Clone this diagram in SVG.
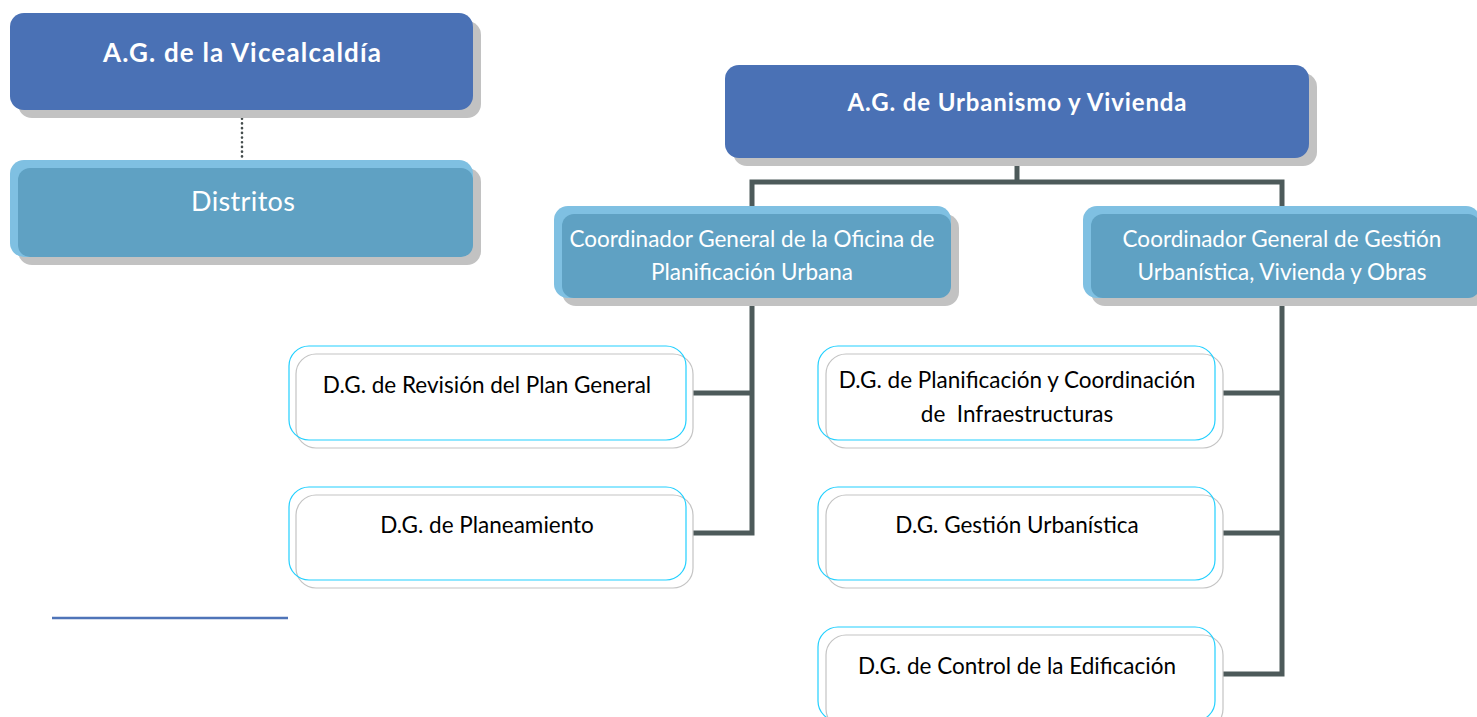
<svg xmlns="http://www.w3.org/2000/svg" width="1477" height="717" viewBox="0 0 1477 717">
<style>
.shadow{fill:#c2c2c2}
.dark{fill:#4a71b5}
.light{fill:#7fc0e2}
.mid{fill:#5fa1c3}
.ttl{font-family:Lato,"Open Sans",sans-serif;font-weight:bold;fill:#ffffff;text-anchor:middle;font-size:26px}
.sub{font-family:Lato,"Open Sans",sans-serif;fill:#ffffff;text-anchor:middle;font-size:22.5px}
.big{font-size:27px}
.dg{font-family:Lato,"Open Sans",sans-serif;fill:#000000;text-anchor:middle;font-size:22.5px}
.gbox{fill:#ffffff;stroke:#c4c4c4;stroke-width:1.2}
.cbox{fill:none;stroke:#22d0ff;stroke-width:1.2}
.conn{fill:none;stroke:#4d5a5a;stroke-width:5}
</style>
<rect width="1477" height="717" fill="#ffffff"/>
<g id="connectors">
<line x1="242" y1="114" x2="242" y2="159" stroke="#454d4d" stroke-width="2.6" stroke-dasharray="0.1 4.6" stroke-linecap="round"/>
<polyline class="conn" points="1017,158 1017,182"/>
<polyline class="conn" points="752,210 752,182 1282,182 1282,210"/>
<polyline class="conn" points="752,298 752,533 686,533"/>
<line class="conn" x1="686" y1="393" x2="752" y2="393"/>
<polyline class="conn" points="1282,298 1282,674 1216,674"/>
<line class="conn" x1="1216" y1="393" x2="1282" y2="393"/>
<line class="conn" x1="1216" y1="533" x2="1282" y2="533"/>
</g>
<g id="vicealcaldia">
<rect class="shadow" x="18" y="21" width="463" height="97" rx="14"/>
<rect class="dark" x="10" y="13" width="463" height="97" rx="14"/>
<text class="ttl" x="242" y="62" textLength="278" lengthAdjust="spacing">A.G. de la Vicealcaldía</text>
</g>
<g id="distritos">
<rect class="shadow" x="18" y="168" width="463" height="97" rx="14"/>
<rect class="light" x="10" y="160" width="463" height="97" rx="14"/>
<rect class="mid" x="18" y="168" width="455" height="89" rx="12"/>
<text class="sub big" x="243" y="211" textLength="104" lengthAdjust="spacing">Distritos</text>
</g>
<g id="urbanismo">
<rect class="shadow" x="733" y="73" width="584" height="93" rx="14"/>
<rect class="dark" x="725" y="65" width="584" height="93" rx="14"/>
<text class="ttl" x="1017" y="111" style="font-size:24px" textLength="339" lengthAdjust="spacing">A.G. de Urbanismo y Vivienda</text>
</g>
<g id="coord-planificacion">
<rect class="shadow" x="562" y="214" width="397" height="92" rx="14"/>
<rect class="light" x="554" y="206" width="397" height="92" rx="14"/>
<rect class="mid" x="562" y="214" width="389" height="84" rx="12"/>
<text class="sub" x="752" y="247">Coordinador General de la Oficina de</text>
<text class="sub" x="752" y="280">Planificación Urbana</text>
</g>
<g id="coord-gestion">
<rect class="shadow" x="1091" y="214" width="397" height="92" rx="14"/>
<rect class="light" x="1083" y="206" width="397" height="92" rx="14"/>
<rect class="mid" x="1091" y="214" width="389" height="84" rx="12"/>
<text class="sub" x="1282" y="247">Coordinador General de Gestión</text>
<text class="sub" x="1282" y="280">Urbanística, Vivienda y Obras</text>
</g>
<g id="dg-revision">
<rect class="gbox" x="296" y="354" width="397" height="94" rx="20"/>
<rect class="cbox" x="289" y="346" width="397" height="94" rx="20"/>
<text class="dg" x="487" y="393">D.G. de Revisión del Plan General</text>
</g>
<g id="dg-planeamiento">
<rect class="gbox" x="296" y="495" width="397" height="93" rx="20"/>
<rect class="cbox" x="289" y="487" width="397" height="93" rx="20"/>
<text class="dg" x="487" y="533">D.G. de Planeamiento</text>
</g>
<g id="dg-infraestructuras">
<rect class="gbox" x="826" y="354" width="397" height="94" rx="20"/>
<rect class="cbox" x="818" y="346" width="397" height="94" rx="20"/>
<text class="dg" x="1017" y="388">D.G. de Planificación y Coordinación</text>
<text class="dg" x="1017" y="422" xml:space="preserve">de  Infraestructuras</text>
</g>
<g id="dg-gestion">
<rect class="gbox" x="826" y="495" width="397" height="93" rx="20"/>
<rect class="cbox" x="818" y="487" width="397" height="93" rx="20"/>
<text class="dg" x="1017" y="533">D.G. Gestión Urbanística</text>
</g>
<g id="dg-control">
<rect class="gbox" x="826" y="635" width="397" height="94" rx="20"/>
<rect class="cbox" x="818" y="627" width="397" height="94" rx="20"/>
<text class="dg" x="1017" y="674">D.G. de Control de la Edificación</text>
</g>
<line x1="52" y1="618" x2="288" y2="618" stroke="#4f74b8" stroke-width="2.5"/>
</svg>
